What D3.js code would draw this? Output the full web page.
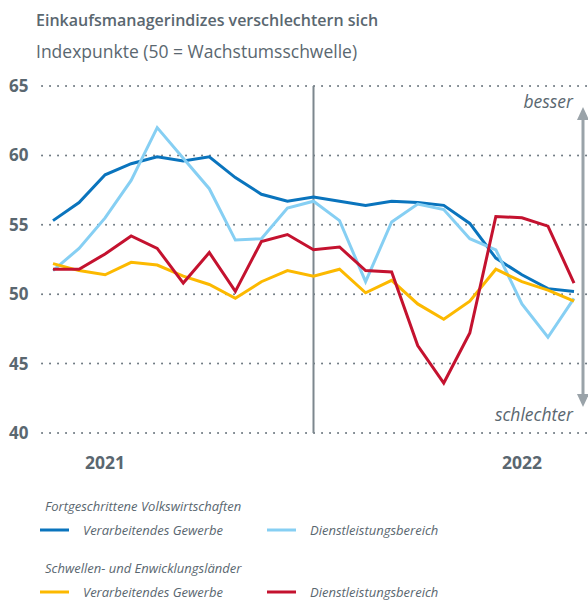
<!DOCTYPE html>
<html>
<head>
<meta charset="utf-8">
<style>
	body { margin: 0; background: #fff; }
	svg text { font-family: "Open Sans", "Noto Sans", sans-serif; fill: #5a6770; }
	.grid line { stroke: #6f7a82; stroke-width: 2px; stroke-dasharray: 0.1 7.9; stroke-linecap: round; }
	.line { fill: none; stroke-width: 3px; stroke-linejoin: miter; }
</style>
</head>
<body>
<script src="https://cdnjs.cloudflare.com/ajax/libs/d3/7.8.5/d3.min.js"></script>
<script>

// Monthly points, Jan 2021 .. Sep 2022
var months = ["2021-01","2021-02","2021-03","2021-04","2021-05","2021-06","2021-07","2021-08","2021-09","2021-10","2021-11","2021-12",
	"2022-01","2022-02","2022-03","2022-04","2022-05","2022-06","2022-07","2022-08","2022-09"];

var advManufacturing = [55.3, 56.6, 58.6, 59.4, 59.9, 59.6, 59.9, 58.4, 57.2, 56.7, 57.0, 56.7, 56.4, 56.7, 56.6, 56.4, 55.1, 52.6, 51.4, 50.4, 50.2];
var advServices      = [51.7, 53.3, 55.5, 58.2, 62.0, 59.8, 57.6, 53.9, 54.0, 56.2, 56.7, 55.3, 50.9, 55.2, 56.5, 56.1, 54.0, 53.2, 49.3, 46.9, 49.7];
var emManufacturing  = [52.2, 51.7, 51.4, 52.3, 52.1, 51.3, 50.7, 49.7, 50.9, 51.7, 51.3, 51.8, 50.1, 51.0, 49.3, 48.2, 49.5, 51.8, 50.9, 50.3, 49.5];
var emServices       = [51.8, 51.8, 52.9, 54.2, 53.3, 50.8, 53.0, 50.2, 53.8, 54.3, 53.2, 53.4, 51.7, 51.6, 46.3, 43.6, 47.2, 55.6, 55.5, 54.9, 50.8];

var yTicks = [40, 45, 50, 55, 60, 65];
var yearLabels = ["2021", "2022"];
var yearLabelMonths = ["2021-03", "2022-07"];
var markerMonth = "2021-11";

var series = [
	{name: "Verarbeitendes Gewerbe", group: 0, values: advManufacturing, color: "#0a74bd"},
	{name: "Dienstleistungsbereich", group: 0, values: advServices, color: "#86cff3"},
	{name: "Verarbeitendes Gewerbe", group: 1, values: emManufacturing, color: "#fcb900"},
	{name: "Dienstleistungsbereich", group: 1, values: emServices, color: "#c4122f"}
];
var groups = ["Fortgeschrittene Volkswirtschaften", "Schwellen- und Enwicklungsländer"];

var W = 588, H = 600;
var svg = d3.select("body").append("svg").attr("width", W).attr("height", H);

// Scales
var x = d3.scalePoint().domain(months).range([53, 574]);
var y = d3.scaleLinear().domain([40, 65]).range([433, 86]);

// Title
svg.append("text").attr("x", 36).attr("y", 26)
	.style("font-size", "16px").style("font-weight", "600")
	.text("Einkaufsmanagerindizes verschlechtern sich");
svg.append("text").attr("x", 36).attr("y", 58)
	.style("font-size", "17.5px")
	.text("Indexpunkte (50 = Wachstumsschwelle)");

// Grid
svg.append("g").attr("class", "grid")
	.selectAll("line").data(yTicks).enter().append("line")
	.attr("x1", 42).attr("x2", 588)
	.attr("y1", function(d) { return y(d); })
	.attr("y2", function(d) { return y(d); });

svg.append("g").selectAll("text").data(yTicks).enter().append("text")
	.attr("x", 9).attr("y", function(d) { return y(d) + 6; })
	.style("font-size", "17px").style("font-weight", "700")
	.text(function(d) { return d; });

// Vertical marker
svg.append("line")
	.attr("x1", x(markerMonth)).attr("x2", x(markerMonth))
	.attr("y1", y(65)).attr("y2", y(40))
	.attr("stroke", "#7d878e").attr("stroke-width", 2);

// Lines
var line = d3.line()
	.x(function(d, i) { return x(months[i]); })
	.y(function(d) { return y(d); });

svg.selectAll(".line").data(series).enter().append("path")
	.attr("class", "line")
	.attr("stroke", function(d) { return d.color; })
	.attr("d", function(d) { return line(d.values); });

// Arrow besser / schlechter
var ax = 583;
svg.append("line").attr("x1", ax).attr("x2", ax).attr("y1", 118).attr("y2", 396)
	.attr("stroke", "#9aa3a9").attr("stroke-width", 3);
svg.append("path").attr("d", "M" + (ax - 6) + ",120 L" + ax + ",107 L" + (ax + 6) + ",120 Z").attr("fill", "#9aa3a9");
svg.append("path").attr("d", "M" + (ax - 6) + ",394 L" + ax + ",407 L" + (ax + 6) + ",394 Z").attr("fill", "#9aa3a9");
svg.append("text").attr("x", 573).attr("y", 108).attr("text-anchor", "end")
	.style("font-size", "17.5px").style("font-style", "italic").text("besser");
svg.append("text").attr("x", 573).attr("y", 421).attr("text-anchor", "end")
	.style("font-size", "17.5px").style("font-style", "italic").text("schlechter");

// Year labels
svg.append("g").selectAll("text").data(yearLabels).enter().append("text")
	.attr("x", function(d, i) { return x(yearLabelMonths[i]); })
	.attr("y", 469).attr("text-anchor", "middle")
	.style("font-size", "17.5px").style("font-weight", "700")
	.text(function(d) { return d; });

// Legend
groups.forEach(function(g, gi) {
	var gy = 511 + gi * 62;
	svg.append("text").attr("x", 45).attr("y", gy)
		.style("font-size", "13px").style("font-style", "italic").text(g);
	series.filter(function(s) { return s.group === gi; }).forEach(function(s, si) {
		var lx = 40 + si * 227, ly = gy + 19;
		svg.append("line").attr("x1", lx).attr("x2", lx + 29).attr("y1", ly).attr("y2", ly)
			.attr("stroke", s.color).attr("stroke-width", 3);
		svg.append("text").attr("x", lx + 43).attr("y", ly + 5)
			.style("font-size", "13px").style("font-style", "italic").text(s.name);
	});
});

</script>
</body>
</html>
